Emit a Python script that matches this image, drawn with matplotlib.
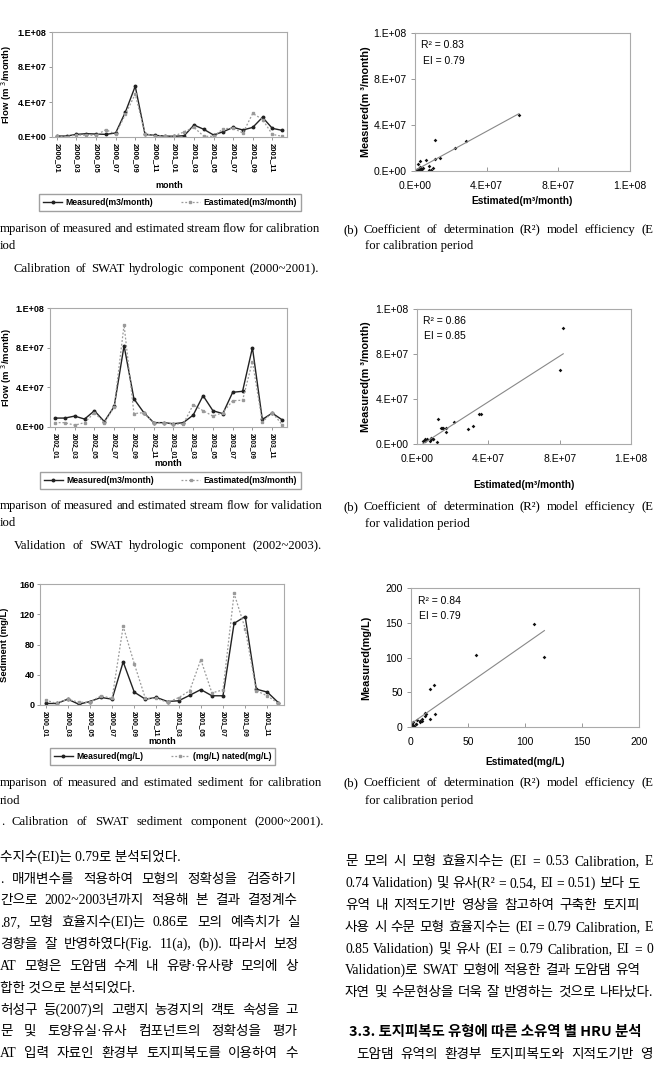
import numpy as np
import matplotlib
matplotlib.use("Agg")
import matplotlib.pyplot as plt
from matplotlib.ticker import FuncFormatter
from matplotlib.lines import Line2D

W, H = 655, 1075

# --- data ---
cal_months = ["2000_01", "2000_02", "2000_03", "2000_04", "2000_05", "2000_06",
              "2000_07", "2000_08", "2000_09", "2000_10", "2000_11", "2000_12",
              "2001_01", "2001_02", "2001_03", "2001_04", "2001_05", "2001_06",
              "2001_07", "2001_08", "2001_09", "2001_10", "2001_11", "2001_12"]
cal_measured = [1.1e6, 1.1e6, 3.0e6, 3.8e6, 3.4e6, 3.0e6, 4.6e6, 2.86e7, 5.8e7, 3.0e6,
                1.9e6, 1.1e6, 0.8e6, 1.5e6, 1.37e7, 8.8e6, 2.3e6, 6.1e6, 1.1e7, 8.0e6,
                1.1e7, 2.25e7, 9.9e6, 7.6e6]
cal_estimated = [0.8e6, 0.5e6, 2.3e6, 2.0e6, 2.0e6, 8.4e6, 3.0e6, 2.6e7, 4.9e7, 3.8e6,
                 1.5e6, 1.1e6, 1.1e6, 6.0e6, 1.1e7, 0.8e6, 0.8e6, 9.5e6, 1.0e7, 4.6e6,
                 2.7e7, 2.0e7, 3.0e6, 0.8e6]

val_months = ["2002_01", "2002_02", "2002_03", "2002_04", "2002_05", "2002_06",
              "2002_07", "2002_08", "2002_09", "2002_10", "2002_11", "2002_12",
              "2003_01", "2003_02", "2003_03", "2003_04", "2003_05", "2003_06",
              "2003_07", "2003_08", "2003_09", "2003_10", "2003_11", "2003_12"]
val_measured = [9.0e6, 9.0e6, 1.1e7, 8.0e6, 1.64e7, 5.5e6, 2.07e7, 8.2e7, 2.84e7, 1.45e7,
                4.4e6, 4.4e6, 3.3e6, 4.4e6, 1.2e7, 3.16e7, 1.64e7, 1.35e7, 3.5e7, 3.6e7,
                8.0e7, 7.6e6, 1.4e7, 7.3e6]
val_estimated = [4.4e6, 4.4e6, 1.8e6, 4.4e6, 1.45e7, 4.4e6, 2.0e7, 1.03e8, 1.35e7, 1.45e7,
                 4.4e6, 4.0e6, 3.0e6, 3.0e6, 2.25e7, 1.64e7, 1.1e7, 1.45e7, 2.65e7, 2.7e7,
                 6.6e7, 5.0e6, 1.45e7, 2.5e6]

sed_months = ["2000_01", "2000_02", "2000_03", "2000_04", "2000_05", "2000_06",
              "2000_07", "2000_08", "2000_09", "2000_10", "2000_11", "2000_12",
              "2001_03", "2001_04", "2001_05", "2001_06", "2001_07", "2001_08",
              "2001_09", "2001_10", "2001_11", "2001_12"]
sed_measured = [2, 2, 7.7, 1, 4.6, 10, 7.7, 57, 17, 7.7, 10, 4.6,
                5.6, 12.8, 20.4, 12.2, 12.2, 108, 117, 21, 17, 3]
sed_estimated = [6.6, 2, 7.7, 3.6, 3.6, 12.2, 8.7, 104, 54.6, 8.7, 8.7, 3.6,
                 9.7, 19, 60, 16, 20, 147.5, 101, 19, 12, 2]

flow_ticks = [0, 4e7, 8e7, 1.2e8]
sed_ticks = [0, 40, 80, 120, 160]
sed_scatter_ticks = [0, 50, 100, 150, 200]

SANS = "Liberation Sans"
SERIF = ["Liberation Serif", "Noto Sans CJK KR"]

plt.rcParams["font.family"] = SANS


def sci(v, pos):
    # excel "0.E+00" style
    if v == 0:
        return "0.E+00"
    e = int(np.floor(np.log10(abs(v))))
    return f"{int(v / 10 ** e)}.E+{e:02d}"


fig = plt.figure(figsize=(W / 100, H / 100), dpi=100)
renderer = fig.canvas.get_renderer()


def add_ax(l, t, r, b):
    return fig.add_axes([l / W, 1 - b / H, (r - l) / W, (b - t) / H])


def ftext(x, y, s, **kw):
    kw.setdefault("va", "center")
    return fig.text(x / W, 1 - y / H, s, **kw)


def bline(x, y, s, **kw):
    # y is the visual centre of the line; draw on a common baseline
    return ftext(x, y + 4, s, va="baseline", **kw)


def justify(x0, x1, y, s, **kw):
    # spread words so the line runs from x0 to x1 (page is justified)
    words = s.split(" ")
    objs = [bline(0, y, w, **kw) for w in words]
    widths = [o.get_window_extent(renderer).width for o in objs]
    gap = (x1 - x0 - sum(widths)) / max(len(words) - 1, 1)
    x = x0
    for o, w in zip(objs, widths):
        o.set_x(x / W)
        x += w + gap


def line_panel(box, months, meas, est, ticks, fmt, ylabel, ylab_x, month_y, leg_box,
               labels, xfs):
    ax = add_ax(*box)
    x = np.arange(len(months))
    ax.plot(x, meas, color="#222222", lw=1.0, marker="o", ms=1.8)
    ax.plot(x, est, color="#9a9a9a", lw=0.9, ls=(0, (1.5, 1.5)), marker="s", ms=1.8)
    ax.set_xlim(-0.5, len(months) - 0.5)
    ax.set_ylim(ticks[0], ticks[-1])
    ax.set_yticks(ticks)
    if fmt is not None:
        ax.yaxis.set_major_formatter(FuncFormatter(fmt))
    ax.set_xticks(x[::2])
    ax.set_xticklabels(months[::2], rotation=270, fontsize=xfs, fontweight="bold")
    for lab in ax.get_yticklabels():
        lab.set_fontsize(6.5)
        lab.set_fontweight("bold")
    for sp in ax.spines.values():
        sp.set_color("#aaaaaa")
        sp.set_linewidth(0.8)
    ax.tick_params(length=2, width=0.6, color="#888888", pad=2)
    cy = (box[1] + box[3]) / 2
    ftext(ylab_x, cy, ylabel, rotation=90, ha="center", fontsize=6.8, fontweight="bold")
    ftext((box[0] + box[2]) / 2, month_y, "month", ha="center", fontsize=6.5,
          fontweight="bold")
    handles = [
        Line2D([], [], color="#222222", lw=1.0, marker="o", ms=1.8),
        Line2D([], [], color="#9a9a9a", lw=0.9, ls=(0, (1.5, 1.5)), marker="s", ms=1.8),
    ]
    l, t, r, b = leg_box
    fig.legend(handles, labels, loc="center", ncol=2,
               bbox_to_anchor=((l + r) / 2 / W, 1 - (t + b) / 2 / H),
               prop={"family": SANS, "size": 6.2, "weight": "bold"},
               frameon=True, fancybox=False, edgecolor="#888888",
               handlelength=2.2, handletextpad=0.4, borderpad=0.45,
               columnspacing=3.2)
    return ax


def scatter_panel(box, xs, ys, ticks, fmt, xlabel, ylabel, ylab_x, xlab_y, stats):
    ax = add_ax(*box)
    xs = np.asarray(xs, float)
    ys = np.asarray(ys, float)
    ax.scatter(xs, ys, marker="D", s=3.5, color="#111111", lw=0)
    k, c = np.polyfit(xs, ys, 1)
    xx = np.array([xs.min(), xs.max()])
    ax.plot(xx, k * xx + c, color="#888888", lw=0.8)
    ax.set_xlim(ticks[0], ticks[-1])
    ax.set_ylim(ticks[0], ticks[-1])
    ax.set_xticks(ticks)
    ax.set_yticks(ticks)
    if fmt is not None:
        ax.xaxis.set_major_formatter(FuncFormatter(fmt))
        ax.yaxis.set_major_formatter(FuncFormatter(fmt))
    ax.tick_params(axis="x", direction="in", length=3, width=0.6, color="#888888",
                   labelsize=7.5, pad=7)
    ax.tick_params(axis="y", direction="out", length=3, width=0.6, color="#888888",
                   labelsize=7.5, pad=3)
    for sp in ax.spines.values():
        sp.set_color("#aaaaaa")
        sp.set_linewidth(0.8)
    ax.text(0.03, 0.91, stats[0], transform=ax.transAxes, fontsize=7.5, va="center")
    ax.text(0.035, 0.80, stats[1], transform=ax.transAxes, fontsize=7.5, va="center")
    ftext(ylab_x, (box[1] + box[3]) / 2, ylabel, rotation=90, ha="center",
          fontsize=7.8, fontweight="bold")
    ftext((box[0] + box[2]) / 2, xlab_y, xlabel, ha="center", fontsize=7.3,
          fontweight="bold")
    return ax


# --- row 1: calibration flow ---
line_panel((52, 32, 287, 137), cal_months, cal_measured, cal_estimated, flow_ticks, sci,
           "Flow (m $^3$/month)", 7, 185, (50, 193, 290, 212),
           ["Measured(m3/month)", "Eastimated(m3/month)"], 5.5)
scatter_panel((415, 33, 630, 171), cal_measured, cal_estimated, flow_ticks, sci,
              "Estimated(m³/month)", "Measured(m ³/month)", 366, 201,
              ["R² = 0.83", "EI = 0.79"])

# --- row 2: validation flow ---
line_panel((50, 308, 287, 427), val_months, val_measured, val_estimated, flow_ticks, sci,
           "Flow (m $^3$/month)", 7, 464, (54, 471, 287, 490),
           ["Measured(m3/month)", "Eastimated(m3/month)"], 4.8)
scatter_panel((417, 309, 631, 444), val_measured, val_estimated, flow_ticks, sci,
              "Estimated(m³/month)", "Measured(m ³/month)", 366, 485,
              ["R² = 0.86", "EI = 0.85"])

# --- row 3: calibration sediment ---
line_panel((40, 584, 284, 705), sed_months, sed_measured, sed_estimated, sed_ticks, None,
           "Sediment (mg/L)", 5, 741, (39, 748, 286, 765),
           ["Measured(mg/L)", "(mg/L) nated(mg/L)"], 4.8)
scatter_panel((411, 588, 639, 727), sed_measured, sed_estimated, sed_scatter_ticks, None,
              "Estimated(mg/L)", "Measured(mg/L)", 366, 762,
              ["R² = 0.84", "EI = 0.79"])

# --- captions ---
cap = dict(family=SERIF, fontsize=9.2)
justify(0, 320, 228, "mparison of measured and estimated stream flow for calibration", **cap)
bline(0, 245, "iod", **cap)
justify(14, 319, 268, "Calibration of SWAT hydrologic component (2000~2001).", **cap)
justify(343, 653, 229, "(b) Coefficient of determination (R²) model efficiency (E", **cap)
bline(365, 245, "for calibration period", **cap)

justify(0, 322, 505, "mparison of measured and estimated stream flow for validation", **cap)
bline(0, 522, "iod", **cap)
justify(14, 322, 545, "Validation of SWAT hydrologic component (2002~2003).", **cap)
justify(343, 653, 506, "(b) Coefficient of determination (R²) model efficiency (E", **cap)
bline(365, 523, "for validation period", **cap)

justify(0, 322, 782, "mparison of measured and estimated sediment for calibration", **cap)
bline(0, 800, "riod", **cap)
justify(1, 324, 821, ". Calibration of SWAT sediment component (2000~2001).", **cap)
justify(343, 653, 782, "(b) Coefficient of determination (R²) model efficiency (E", **cap)
bline(365, 800, "for calibration period", **cap)

# --- body text ---
body = dict(family=SERIF, fontsize=9.8)
left_lines = [
    "수지수(EI)는 0.79로 분석되었다.",
    ". 매개변수를 적용하여 모형의 정확성을 검증하기",
    "간으로 2002~2003년까지 적용해 본 결과 결정계수",
    ".87, 모형 효율지수(EI)는 0.86로 모의 예측치가 실",
    "경향을 잘 반영하였다(Fig. 11(a), (b)). 따라서 보정",
    "AT 모형은 도암댐 수계 내 유량·유사량 모의에 상",
    "합한 것으로 분석되었다.",
    "허성구 등(2007)의 고랭지 농경지의 객토 속성을 고",
    "문 및 토양유실·유사 컴포넌트의 정확성을 평가",
    "AT 입력 자료인 환경부 토지피복도를 이용하여 수",
]
left_y = [857, 879, 900, 922, 944, 966, 988, 1010, 1031, 1053]
left_end = [None, 296, 297, 300, 298, 298, None, 298, 297, 298]
for s, y, e in zip(left_lines, left_y, left_end):
    if e is None:
        bline(0, y, s, **body)
    else:
        justify(0, e, y, s, **body)

right_lines = [
    "문 모의 시 모형 효율지수는 (EI = 0.53 Calibration, E",
    "0.74 Validation) 및 유사(R² = 0.54, EI = 0.51) 보다 도",
    "유역 내 지적도기반 영상을 참고하여 구축한 토지피",
    "사용 시 수문 모형 효율지수는 (EI = 0.79 Calibration, E",
    "0.85 Validation) 및 유사 (EI = 0.79 Calibration, EI = 0",
    "Validation)로 SWAT 모형에 적용한 결과 도암댐 유역",
    "자연 및 수문현상을 더욱 잘 반영하는 것으로 나타났다.",
]
right_y = [861, 883, 905, 927, 949, 970, 992]
right_end = [653, 640, 640, 653, 653, 640, 653]
for s, y, e in zip(right_lines, right_y, right_end):
    justify(345, e, y, s, **body)
bline(349, 1032, "3.3. 토지피복도 유형에 따른 소유역 별 HRU 분석",
      family=["Noto Sans CJK KR", "Liberation Sans"], fontsize=10.4, fontweight="bold")
justify(356, 653, 1054, "도암댐 유역의 환경부 토지피복도와 지적도기반 영", **body)

fig.savefig("out.png", dpi=100, facecolor="white")
